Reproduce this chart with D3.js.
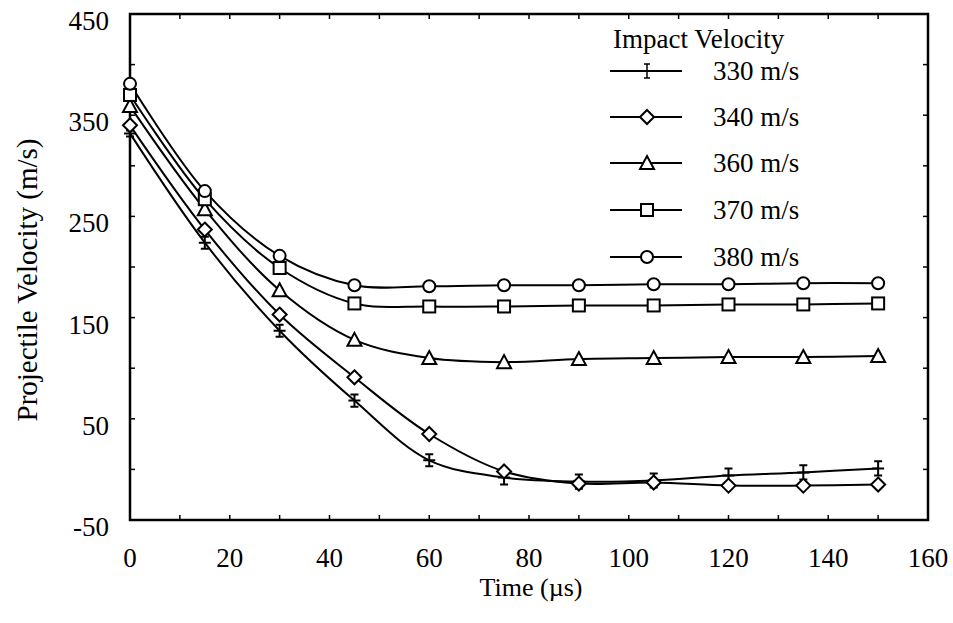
<!DOCTYPE html>
<html>
<head>
<meta charset="utf-8">
<script src="https://cdn.jsdelivr.net/npm/d3@7"></script>
<style>
  html, body { margin: 0; padding: 0; background: #fff; }
  svg { display: block; }
</style>
</head>
<body>
<svg id="chart" width="953" height="623" font-family="'Liberation Serif', 'Times New Roman', Times, serif"></svg>
<script>
// Projectile velocity history for several impact velocities
const time = [0, 15, 30, 45, 60, 75, 90, 105, 120, 135, 150];
const v330 = [332, 224, 137, 68, 9, -8, -12, -11, -6, -3, 1];
const err330 = [3, 6, 6, 6, 6, 7, 7, 7, 7, 7, 7];
const v340 = [340, 237, 153, 91, 35, -2, -14, -13, -16, -16, -15];
const v360 = [359, 257, 177, 128, 110, 106, 109, 110, 111, 111, 112];
const v370 = [370, 267, 199, 164, 161, 161, 162, 162, 163, 163, 164];
const v380 = [381, 275, 211, 182, 181, 182, 182, 183, 183, 184, 184];

const seriesNames = ["330 m/s", "340 m/s", "360 m/s", "370 m/s", "380 m/s"];
const seriesValues = [v330, v340, v360, v370, v380];
const seriesMarkers = ["errbar", "diamond", "triangle", "square", "circle"];

const xTicks = [0, 20, 40, 60, 80, 100, 120, 140, 160];
const yTicks = [-50, 50, 150, 250, 350, 450];

const plotLeft = 130, plotRight = 928, plotTop = 14, plotBottom = 520;

const svg = d3.select("#chart");
const x = d3.scaleLinear().domain([0, 160]).range([plotLeft, plotRight]);
const y = d3.scaleLinear().domain([-50, 450]).range([plotBottom, plotTop]);

// inward ticks on all four sides
const minorX = d3.range(0, 161, 10);
const minorY = d3.range(-50, 451, 50);
const tickLen = 5;
const ticks = svg.append("g").attr("stroke", "#000").attr("stroke-width", 1.5);
minorX.forEach(t => {
  ticks.append("line").attr("x1", x(t)).attr("x2", x(t)).attr("y1", plotBottom).attr("y2", plotBottom - tickLen);
  ticks.append("line").attr("x1", x(t)).attr("x2", x(t)).attr("y1", plotTop).attr("y2", plotTop + tickLen);
});
minorY.forEach(t => {
  ticks.append("line").attr("x1", plotLeft).attr("x2", plotLeft + tickLen).attr("y1", y(t)).attr("y2", y(t));
  ticks.append("line").attr("x1", plotRight).attr("x2", plotRight - tickLen).attr("y1", y(t)).attr("y2", y(t));
});

// frame
svg.append("rect")
  .attr("x", plotLeft).attr("y", plotTop)
  .attr("width", plotRight - plotLeft).attr("height", plotBottom - plotTop)
  .attr("fill", "none").attr("stroke", "#000").attr("stroke-width", 2.5);

// tick labels
svg.append("g").selectAll("text").data(xTicks).join("text")
  .attr("x", d => x(d)).attr("y", 567)
  .attr("text-anchor", "middle").attr("font-size", 27)
  .text(d => d);
svg.append("g").selectAll("text").data(yTicks).join("text")
  .attr("x", 109).attr("y", d => y(d) + 16)
  .attr("text-anchor", "end").attr("font-size", 27)
  .text(d => d);

// axis titles
svg.append("text")
  .attr("x", 531).attr("y", 596)
  .attr("text-anchor", "middle").attr("font-size", 26)
  .text("Time (\u00b5s)");
svg.append("text")
  .attr("transform", "translate(37,280) rotate(-90)")
  .attr("text-anchor", "middle").attr("font-size", 29)
  .text("Projectile Velocity (m/s)");

// marker drawing
function drawMarker(g, type, cx, cy, err) {
  const s = 6;
  if (type === "circle") {
    g.append("circle").attr("cx", cx).attr("cy", cy).attr("r", s);
  } else if (type === "square") {
    g.append("rect").attr("x", cx - s).attr("y", cy - s).attr("width", 2 * s).attr("height", 2 * s);
  } else if (type === "triangle") {
    g.append("path").attr("d", `M${cx},${cy - 7}L${cx + 7},${cy + 6}L${cx - 7},${cy + 6}Z`);
  } else if (type === "diamond") {
    g.append("path").attr("d", `M${cx},${cy - 7}L${cx + 7},${cy}L${cx},${cy + 7}L${cx - 7},${cy}Z`);
  } else if (type === "errbar") {
    const y1 = y.invert(cy) + err, y2 = y.invert(cy) - err;
    const p = `M${cx},${y(y1)}V${y(y2)}` +
      `M${cx - 4},${y(y1)}H${cx + 4}M${cx - 4},${y(y2)}H${cx + 4}` +
      `M${cx - 6},${cy}H${cx + 6}`;
    g.append("path").attr("d", p).attr("fill", "none");
  }
}

const line = d3.line()
  .x((d, i) => x(time[i]))
  .y(d => y(d))
  .curve(d3.curveCatmullRom.alpha(0.5));

const plot = svg.append("g");
seriesValues.forEach((vals, k) => {
  plot.append("path").datum(vals)
    .attr("d", line)
    .attr("fill", "none").attr("stroke", "#000").attr("stroke-width", 2);
});
seriesValues.forEach((vals, k) => {
  const g = plot.append("g").attr("fill", "#fff").attr("stroke", "#000").attr("stroke-width", 2);
  vals.forEach((v, i) => drawMarker(g, seriesMarkers[k], x(time[i]), y(v), err330[i]));
});

// legend
const lg = svg.append("g");
lg.append("text").attr("x", 613).attr("y", 48).attr("font-size", 27).text("Impact Velocity");
const rowY = [71, 117, 163, 210, 257];
seriesNames.forEach((name, k) => {
  const ry = rowY[k];
  lg.append("line").attr("x1", 610).attr("x2", 682).attr("y1", ry).attr("y2", ry)
    .attr("stroke", "#000").attr("stroke-width", 2);
  const g = lg.append("g").attr("fill", "#fff").attr("stroke", "#000").attr("stroke-width", 2);
  if (seriesMarkers[k] === "errbar") {
    g.append("path").attr("d", `M647,${ry - 7}V${ry + 7}M644,${ry - 7}H650M644,${ry + 7}H650`)
      .attr("fill", "none").attr("stroke-width", 1.5);
  } else {
    drawMarker(g, seriesMarkers[k], 647, ry, 0);
  }
  lg.append("text").attr("x", 713).attr("y", ry + 9).attr("font-size", 27).text(name);
});
</script>
</body>
</html>
